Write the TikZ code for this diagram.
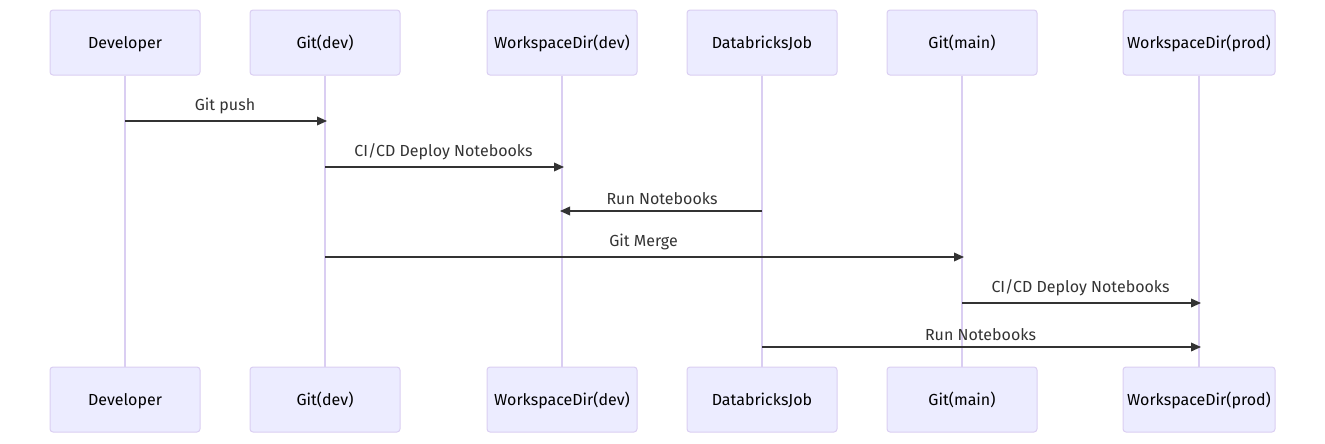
\documentclass[tikz,border=0pt]{standalone}
\usepackage{fontspec}
\setmainfont{Fira Sans}
\usetikzlibrary{arrows.meta}
\definecolor{actfill}{HTML}{ECECFF}
\definecolor{actline}{HTML}{DACEF2}
\definecolor{msgline}{HTML}{333333}
\begin{document}
\begin{tikzpicture}[x=0.75pt, y=-0.75pt,
  actor/.style={draw=actline, fill=actfill, line width=0.75pt, rounded corners=2.25pt,
    minimum width=112.5pt, minimum height=48.75pt, inner sep=0pt,
    text height=10pt, text depth=1.7pt, font=\fontsize{12}{14}\selectfont},
  life/.style={draw=actline, line width=1pt},
  msg/.style={draw=msgline, line width=1.1pt, shorten >=-1.5pt, -{Triangle[length=7.5pt, width=6.5pt]}},
  lbl/.style={font=\fontsize{12}{14}\selectfont, text=msgline, inner sep=0pt, above=4.5pt}]
\useasboundingbox (0,0) rectangle (1325,443);
% actors, top row
\node[actor] (devT) at (125,42.5) {Developer};
\node[actor] (gdevT) at (325,42.5) {Git(dev)};
\node[actor] (wdevT) at (562,42.5) {WorkspaceDir(dev)};
\node[actor] (jobT) at (762,42.5) {DatabricksJob};
\node[actor] (gmainT) at (962,42.5) {Git(main)};
\node[actor, minimum width=114pt] (wprodT) at (1199,42.5) {WorkspaceDir(prod)};
% actors, bottom row
\node[actor] (devB) at (125,399.5) {Developer};
\node[actor] (gdevB) at (325,399.5) {Git(dev)};
\node[actor] (wdevB) at (562,399.5) {WorkspaceDir(dev)};
\node[actor] (jobB) at (762,399.5) {DatabricksJob};
\node[actor] (gmainB) at (962,399.5) {Git(main)};
\node[actor, minimum width=114pt] (wprodB) at (1199,399.5) {WorkspaceDir(prod)};
% lifelines
\foreach \a in {dev,gdev,wdev,job,gmain,wprod}
  \draw[life] (\a T) -- (\a B);
% messages
\draw[msg] (devT |- 0,121) -- (gdevT |- 0,121) node[lbl, midway] (m1) {Git push};
\draw[msg] (gdevT |- 0,167) -- (wdevT |- 0,167) node[lbl, midway] (m2) {CI/CD Deploy Notebooks};
\draw[msg] (jobT |- 0,211) -- (wdevT |- 0,211) node[lbl, midway] (m3) {Run Notebooks};
\draw[msg] (gdevT |- 0,257) -- (gmainT |- 0,257) node[lbl, midway] (m4) {Git Merge};
\draw[msg] (gmainT |- 0,303) -- (wprodT |- 0,303) node[lbl, midway] (m5) {CI/CD Deploy Notebooks};
\draw[msg] (jobT |- 0,347) -- (wprodT |- 0,347) node[lbl, midway] (m6) {Run Notebooks};
\end{tikzpicture}
\end{document}
